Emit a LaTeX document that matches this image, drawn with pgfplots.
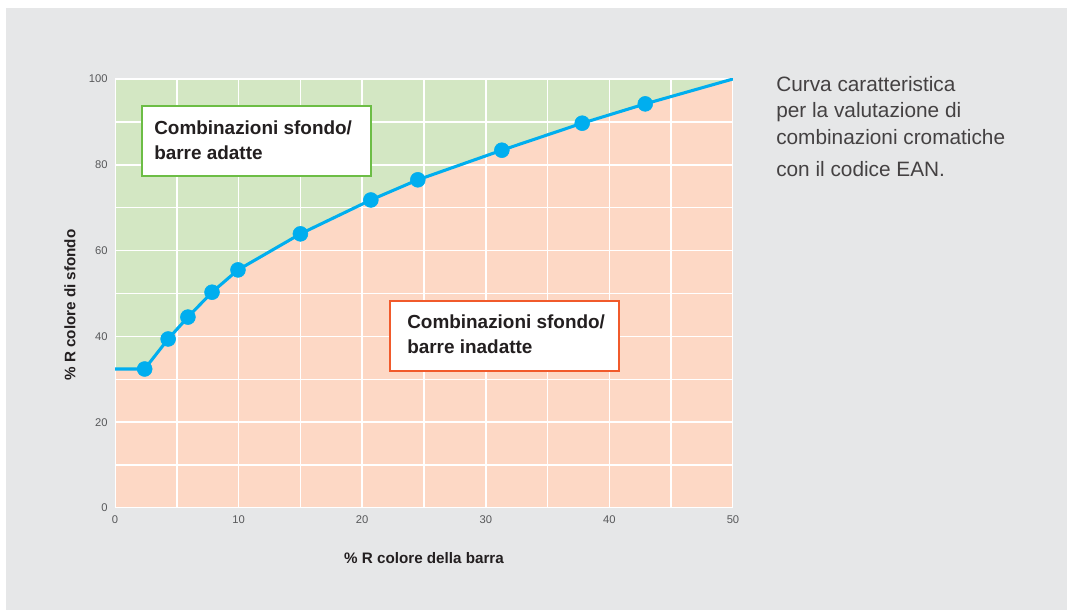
\documentclass[border=0pt]{standalone}
\usepackage{fontspec}
\setmainfont{Liberation Sans}
\usepackage{pgfplots}
\pgfplotsset{compat=1.18}

\definecolor{bgpanel}{HTML}{E6E7E8}
\definecolor{okfill}{HTML}{D3E7C3}
\definecolor{kofill}{HTML}{FDD8C5}
\definecolor{curve}{HTML}{00AEEF}
\definecolor{okline}{HTML}{6CBD45}
\definecolor{koline}{HTML}{F15A2B}
\definecolor{ticktext}{HTML}{58595B}
\definecolor{darktext}{HTML}{231F20}

% curve: % R bar colour vs. % R background colour
\pgfplotstableread{
x     y
0     32.4
2.4   32.4
4.3   39.4
5.9   44.5
7.85  50.3
9.95  55.5
15.0  63.9
20.7  71.8
24.5  76.5
31.3  83.4
37.8  89.7
42.9  94.2
50    100
}\curvedata

\pgfplotstableread{
x     y
2.4   32.4
4.3   39.4
5.9   44.5
7.85  50.3
9.95  55.5
15.0  63.9
20.7  71.8
24.5  76.5
31.3  83.4
37.8  89.7
42.9  94.2
}\markdata

\begin{document}
\begin{tikzpicture}
  % page and grey panel (pixel units, origin bottom left)
  \begin{scope}[x=0.75pt,y=0.75pt]
    \fill[white] (0,0) rectangle (1067,610);
    \fill[bgpanel] (6,0) rectangle (1067,602);
  \end{scope}

  \begin{axis}[
      scale only axis,
      width=463.5pt, height=321.75pt,
      anchor=south west, at={(86.25pt,76.5pt)},
      xmin=0, xmax=50, ymin=0, ymax=100,
      xtick={0,10,...,50}, ytick={0,20,...,100},
      major tick length=0pt, minor tick length=0pt,
      axis line style={draw=none},
      /pgf/number format/assume math mode=true,
      ticklabel style={font=\fontsize{8.4}{10}\selectfont, text=ticktext},
      yticklabel style={xshift=-2pt},
      xticklabel style={yshift=-2pt},
      xlabel={\bfseries \% R colore della barra},
      ylabel={\bfseries \% R colore di sfondo},
      label style={font=\fontsize{11.4}{13}\selectfont, text=darktext},
      xlabel style={at={(axis description cs:0.5,-0.1166)}, anchor=center},
      ylabel style={at={(axis description cs:-0.0728,0.473)}, anchor=center},
    ]

    % whole area: suitable combinations
    \addplot[fill=okfill, draw=none]
      coordinates {(0,100) (50,100)} \closedcycle;
    % below the curve: unsuitable combinations
    \addplot[fill=kofill, draw=none]
      table[x=x,y=y] {\curvedata} \closedcycle;

    % white grid and frame over the two regions
    \pgfplotsinvokeforeach{5,10,...,45}{
      \draw[white, line width=1.1pt] (axis cs:#1,0) -- (axis cs:#1,100);
    }
    \pgfplotsinvokeforeach{10,20,...,90}{
      \draw[white, line width=1.1pt] (axis cs:0,#1) -- (axis cs:50,#1);
    }
    \draw[white, line width=2.2pt] (axis cs:0,0) rectangle (axis cs:50,100);

    \addplot[curve, line width=2.3pt, line join=round] table[x=x,y=y] {\curvedata};
    \addplot[only marks, mark=*, mark size=5.6pt, mark options={fill=curve, draw=curve}]
      table[x=x,y=y] {\markdata};

    \node[draw=okline, line width=1.6pt, fill=white, anchor=north west,
          minimum width=172pt, minimum height=52.5pt, inner sep=0pt]
      at (axis cs:2.1,93.9) {};
    \node[draw=koline, line width=1.6pt, fill=white, anchor=north west,
          minimum width=172pt, minimum height=52.5pt, inner sep=0pt]
      at (axis cs:22.17,48.5) {};
  \end{axis}

  \begin{scope}[x=0.75pt,y=0.75pt]
    % box texts
    \begin{scope}[every node/.style={anchor=base west, inner sep=0pt, text=darktext,
                  font=\fontsize{14.2}{16}\selectfont\bfseries}]
      \node at (154,610-135) {Combinazioni sfondo/};
      \node at (154,610-160) {barre adatte};
      \node at (407,610-329) {Combinazioni sfondo/};
      \node at (407,610-354) {barre inadatte};
    \end{scope}

    % side note
    \begin{scope}[every node/.style={anchor=base west, inner sep=0pt, text=darktext!85,
                  font=\fontsize{15.6}{18}\selectfont}]
      \node at (776,610-92) {Curva caratteristica};
      \node at (776,610-118) {per la valutazione di};
      \node at (776,610-145) {combinazioni cromatiche};
      \node at (776,610-177) {con il codice EAN.};
    \end{scope}
    \useasboundingbox (0,0) rectangle (1067,610);
  \end{scope}
\end{tikzpicture}
\end{document}
